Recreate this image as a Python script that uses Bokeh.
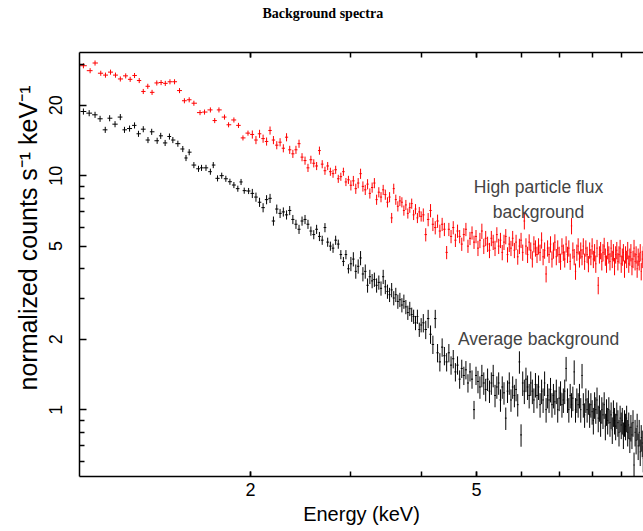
import numpy as np
from bokeh.plotting import figure
from bokeh.models import ColumnDataSource, Range1d, FixedTicker, LogAxis, Title, Label, BasicTickFormatter
from bokeh.embed import file_html
from bokeh.resources import INLINE

# ---------------- data ----------------
red_lo_energy = [1.016, 1.044, 1.065, 1.090, 1.111, 1.134, 1.157, 1.180, 1.206, 1.228,
                 1.250, 1.274, 1.295, 1.319, 1.342, 1.368, 1.392, 1.416, 1.443, 1.470,
                 1.500, 1.530, 1.560, 1.590, 1.630, 1.660, 1.700, 1.730, 1.760, 1.800,
                 1.830, 1.870, 1.905, 1.940, 1.980]
red_lo_rate = [29.5, 28.1, 30.3, 27.4, 26.9, 27.7, 26.9, 25.9, 26.7, 25.8,
               26.8, 25.5, 22.9, 24.1, 22.7, 24.9, 25.0, 24.8, 25.2, 25.2,
               23.1, 20.9, 21.1, 20.4, 18.6, 18.7, 19.1, 17.2, 19.1, 17.8,
               16.5, 17.3, 16.4, 14.5, 15.2]

black_lo_energy = [1.016, 1.040, 1.065, 1.087, 1.110, 1.130, 1.155, 1.180, 1.200, 1.225,
                   1.250, 1.270, 1.295, 1.320, 1.340, 1.370, 1.390, 1.415, 1.440, 1.460,
                   1.490, 1.520, 1.540, 1.560, 1.590, 1.620, 1.640, 1.670, 1.700, 1.720,
                   1.750, 1.780, 1.810, 1.840, 1.870, 1.900, 1.925, 1.950, 1.985]
black_lo_rate = [18.8, 18.5, 18.2, 17.5, 15.7, 17.6, 16.6, 17.8, 15.7, 15.9,
                 16.4, 15.1, 15.8, 14.2, 15.4, 14.1, 14.8, 13.8, 14.7, 14.2,
                 13.7, 13.0, 11.9, 12.6, 11.1, 10.7, 10.8, 10.8, 10.4, 11.1,
                 9.74, 10.0, 9.7, 9.42, 9.12, 8.8, 9.4, 8.63, 8.6]

hi_energy = [2.015, 2.045, 2.075, 2.105, 2.135, 2.165, 2.195, 2.225, 2.255, 2.285,
             2.315, 2.345, 2.375, 2.405, 2.435, 2.465, 2.495, 2.525, 2.555, 2.585,
             2.615, 2.645, 2.675, 2.705, 2.735, 2.765, 2.795, 2.825, 2.855, 2.885,
             2.915, 2.945, 2.975,
             3.005, 3.035, 3.065, 3.095, 3.125, 3.155, 3.185, 3.215, 3.245, 3.275,
             3.305, 3.335, 3.365, 3.395, 3.425, 3.455, 3.485, 3.515, 3.545, 3.575,
             3.605, 3.635, 3.665, 3.695, 3.725, 3.755, 3.785, 3.815, 3.845, 3.875,
             3.905, 3.935, 3.965, 3.995,
             4.03, 4.07, 4.11, 4.15, 4.19, 4.23, 4.27, 4.31, 4.35, 4.39,
             4.43, 4.47, 4.51, 4.55, 4.59, 4.63, 4.67, 4.71, 4.75, 4.79,
             4.83, 4.87, 4.91, 4.95, 4.99, 5.03, 5.07, 5.11, 5.15, 5.19,
             5.23, 5.27, 5.31, 5.35, 5.39, 5.43, 5.47, 5.51, 5.55, 5.59,
             5.63, 5.67, 5.71, 5.75, 5.79, 5.83, 5.87, 5.91, 5.95, 5.99,
             6.03, 6.07, 6.11, 6.15, 6.19, 6.23, 6.27, 6.31, 6.35, 6.39,
             6.43, 6.47, 6.51, 6.55, 6.59, 6.63, 6.67, 6.71, 6.75, 6.79,
             6.83, 6.87, 6.91, 6.95, 6.99, 7.03, 7.07, 7.11, 7.15, 7.19,
             7.23, 7.27, 7.31, 7.35, 7.39, 7.43, 7.47, 7.51, 7.55, 7.59,
             7.63, 7.67, 7.71, 7.75, 7.79, 7.83, 7.87, 7.91, 7.95, 7.99,
             8.03, 8.07, 8.11, 8.15, 8.19, 8.23, 8.27, 8.31, 8.35, 8.39,
             8.43, 8.47, 8.51, 8.55, 8.59, 8.63, 8.67, 8.71, 8.75, 8.79,
             8.83, 8.87, 8.91, 8.95, 8.99, 9.03, 9.07, 9.11, 9.15, 9.19,
             9.23, 9.27, 9.31, 9.35, 9.39, 9.43, 9.47, 9.51, 9.55, 9.59,
             9.63, 9.67, 9.71, 9.75, 9.79, 9.83, 9.87]

red_hi_rate = [15.0, 14.2, 15.1, 14.4, 14.0, 15.6, 14.2, 13.5, 13.9, 13.1,
               14.6, 12.9, 12.4, 12.9, 13.7, 12.0, 11.6, 10.8, 11.7, 11.3,
               11.0, 12.8, 11.2, 10.5, 11.0, 10.4, 10.2, 10.6, 9.7, 9.9,
               10.4, 9.4, 9.6,
               9.1, 9.5, 8.8, 9.3, 10.2, 9.0, 8.7, 9.2, 8.4, 8.9,
               9.3, 7.9, 8.5, 8.1, 8.7, 8.3, 7.7, 8.1, 6.6, 8.8,
               7.9, 7.4, 7.8, 7.7, 7.1, 7.5, 6.9, 7.3, 7.6, 6.8,
               7.2, 6.6, 7.0, 6.7,
               6.8, 5.6, 6.5, 7.1, 6.2, 6.0, 6.4, 5.8, 6.2, 5.9,
               4.7, 5.9, 5.5, 6.0, 5.3, 5.8, 5.5, 5.1, 5.6, 5.9,
               5.0, 5.4, 5.7, 5.2, 5.5, 4.9, 5.3, 5.8, 5.0, 5.4,
               5.1, 4.8, 5.4, 5.2, 4.9, 5.6, 5.0, 5.3, 4.7, 5.2,
               5.5, 4.6, 5.1, 4.9, 5.4, 4.8, 5.2, 4.5, 5.0, 5.3,
               4.7, 6.4, 5.0, 4.6, 5.2, 4.8, 4.4, 5.1, 4.9, 4.6,
               5.0, 4.7, 5.3, 4.5, 4.8, 3.8, 4.9, 4.6, 5.1, 4.4,
               4.8, 5.2, 4.5, 4.9, 4.6, 4.3, 5.0, 4.7, 4.4, 5.1,
               4.6, 4.9, 4.3, 6.1, 4.8, 4.5, 3.9, 4.7, 5.0, 4.4,
               4.8, 4.5, 5.0, 4.3, 4.9, 4.6, 4.2, 4.8, 4.5, 5.0,
               4.4, 4.7, 4.2, 4.9, 3.4, 4.6, 4.8, 4.3, 4.7, 5.0,
               4.5, 4.2, 4.8, 4.6, 4.3, 4.9, 4.4, 4.7, 4.1, 4.6,
               4.8, 4.3, 4.6, 4.9, 4.2, 4.5, 4.7, 4.0, 4.6, 4.4,
               4.8, 4.2, 4.5, 4.7, 4.1, 4.4, 4.9, 4.3, 4.6, 4.0,
               4.5, 4.3, 4.7, 3.9, 4.4, 4.6, 4.2]

black_hi_rate = [8.4, 8.1, 7.7, 7.3, 7.9, 8.0, 6.4, 7.2, 6.9, 7.0,
                 6.8, 7.1, 6.5, 6.2, 5.9, 6.4, 6.5, 6.2, 5.8, 5.6,
                 5.9, 5.5, 5.3, 6.0, 5.2, 5.0, 4.9, 5.3, 5.1, 4.6,
                 4.3, 4.6, 4.0,
                 4.2, 4.4, 3.9, 4.1, 4.45, 3.8, 3.9, 3.4, 3.7, 3.55,
                 3.6, 3.4, 3.5, 3.3, 3.7, 3.35, 3.2, 3.1, 3.25, 3.0,
                 3.1, 2.9, 2.95, 2.8, 2.9, 2.75, 2.6, 2.7, 2.55, 2.5,
                 2.35, 2.5, 2.2, 2.3,
                 2.35, 2.2, 2.45, 2.1, 1.9, 2.45, 1.75, 1.6, 1.85, 1.7,
                 1.6, 1.75, 1.55, 1.65, 1.45, 1.55, 1.35, 1.5, 1.4, 1.48,
                 1.3, 1.45, 1.35, 1.0, 1.4, 1.32, 1.25, 1.4, 1.3, 1.22,
                 1.35, 1.2, 1.3, 1.4, 1.15, 1.25, 1.3, 1.1, 1.25, 1.18,
                 0.92, 1.2, 1.3, 1.1, 1.25, 1.15, 1.22, 1.05, 1.6, 0.78,
                 1.3, 1.2, 1.35, 1.25, 1.15, 1.3, 1.2, 1.1, 1.28, 1.15,
                 1.25, 1.05, 1.2, 1.1, 1.3, 1.0, 1.15, 1.1, 1.22, 1.05,
                 1.15, 1.08, 1.2, 1.0, 1.12, 1.18, 1.05, 1.1, 1.2, 1.5,
                 1.1, 1.0, 1.15, 1.05, 1.12, 1.45, 1.0, 1.1, 1.05, 1.15,
                 1.0, 1.4, 1.05, 0.95, 1.1, 1.0, 1.08, 0.95, 1.05, 0.98,
                 0.9, 1.05, 1.0, 1.1, 0.92, 1.02, 0.88, 1.0, 0.95, 1.05,
                 0.85, 0.98, 0.9, 1.0, 0.88, 0.95, 0.82, 0.97, 0.9, 0.85,
                 0.95, 0.88, 0.8, 0.92, 0.86, 0.9, 0.78, 0.88, 0.85, 0.92,
                 0.8, 0.86, 0.75, 0.84, 0.78, 0.88, 0.58, 0.8, 0.74, 0.85,
                 0.7, 0.8, 0.66, 0.76, 0.72, 0.62, 0.78]

# relative half-length of the error bars, per energy band (upper band edges in keV)
err_band_upper = [2.0, 3.0, 4.0, 5.0, 6.0, 8.0, 10.5]
red_rel_err = [0.025, 0.04, 0.05, 0.065, 0.075, 0.08, 0.085]
black_rel_err = [0.03, 0.045, 0.07, 0.09, 0.11, 0.12, 0.13]

x_tick_labels = [2, 5]
x_minor_ticks = [2, 3, 4, 5, 6, 7, 8, 9]
y_tick_labels = [1, 2, 5, 10, 20]
y_minor_ticks = [0.6, 0.7, 0.8, 0.9, 3, 4, 6, 7, 8, 9, 30]

title_text = "Background spectra"
y_label_text = "normalized counts s\u207b\u00b9 keV\u207b\u00b9"
x_label_text = "Energy (keV)"
label_high = ["High particle flux", "background"]
label_avg = "Average background"


def build_source(energy, rate, rel_err_band):
    e = np.asarray(energy, dtype=float)
    r = np.asarray(rate, dtype=float)
    mids = (e[1:] + e[:-1]) / 2.0
    lo = np.concatenate([[e[0] - (mids[0] - e[0])], mids])
    hi = np.concatenate([mids, [e[-1] + (e[-1] - mids[-1])]])
    idx = np.searchsorted(np.asarray(err_band_upper), e)
    rel = np.asarray(rel_err_band)[np.clip(idx, 0, len(rel_err_band) - 1)]
    return ColumnDataSource(dict(e=e, r=r, lo=lo, hi=hi,
                                 rlo=r * (1 - rel), rhi=r * (1 + rel)))


red_src = build_source(red_lo_energy + hi_energy, red_lo_rate + red_hi_rate, red_rel_err)
blk_src = build_source(black_lo_energy + hi_energy, black_lo_rate + black_hi_rate, black_rel_err)

FONT = "Liberation Sans"

p = figure(width=643, height=531, x_axis_type="log", y_axis_type="log", title=None,
           x_range=Range1d(1.0, 9.84), y_range=Range1d(0.518, 33.6),
           output_backend="svg", toolbar_location=None,
           min_border_left=79, min_border_right=0, min_border_top=52, min_border_bottom=55)
p.outline_line_color = None
p.grid.visible = False
p.background_fill_color = "white"
p.border_fill_color = "white"

for src, col in ((red_src, "#ff0000"), (blk_src, "#000000")):
    p.segment(x0="lo", x1="hi", y0="r", y1="r", source=src, line_color=col, line_width=1)
    p.segment(x0="e", x1="e", y0="rlo", y1="rhi", source=src, line_color=col, line_width=1)

# bottom axis
xa = p.xaxis[0]
xa.ticker = FixedTicker(ticks=x_tick_labels, minor_ticks=x_minor_ticks)
xa.formatter = BasicTickFormatter()
xa.axis_label = x_label_text

# left axis
ya = p.yaxis[0]
ya.ticker = FixedTicker(ticks=y_tick_labels, minor_ticks=y_minor_ticks)
ya.formatter = BasicTickFormatter()
ya.major_label_orientation = "parallel"

# top axis (ticks only; its tiny white labels reserve room so the title sits high)
top = LogAxis(ticker=FixedTicker(ticks=x_tick_labels, minor_ticks=x_minor_ticks),
              formatter=BasicTickFormatter())
top.major_label_text_font_size = "2px"
top.major_label_text_color = "white"
top.major_label_standoff = 28
p.add_layout(top, "above")

for ax in (xa, ya, top):
    ax.axis_line_color = "black"
    ax.axis_line_width = 1.5
    ax.major_tick_line_color = "black"
    ax.minor_tick_line_color = "black"
    ax.major_tick_line_width = 1.5
    ax.minor_tick_line_width = 1.5
    ax.major_tick_out = 0
    ax.minor_tick_out = 0
    ax.minor_tick_in = 5
ya.major_tick_in = 7
xa.major_tick_in = 5
top.major_tick_in = 5

for ax in (xa, ya):
    ax.major_label_text_font = FONT
    ax.major_label_text_font_size = "18px"
    ax.major_label_text_color = "black"
    ax.axis_label_text_font = FONT
    ax.axis_label_text_font_size = "20px"
    ax.axis_label_text_font_style = "normal"
    ax.axis_label_text_color = "black"
xa.major_label_standoff = 6
xa.axis_label_standoff = 4
ya.major_label_standoff = 17

ylab = Title(text=y_label_text, align="left", offset=86,
             text_font=FONT, text_font_size="25px", text_font_style="normal",
             text_color="black", standoff=10)
p.add_layout(ylab, "left")

ttl = Title(text=title_text, align="left", offset=183, standoff=0,
            text_font="Liberation Serif", text_font_style="bold",
            text_font_size="14px", text_color="black")
p.add_layout(ttl, "above")

lbl_font = "17.5px"
p.add_layout(Label(x=6.43, y=8.97, text=label_high[0], text_align="center",
                   text_baseline="middle", text_font=FONT, text_font_size=lbl_font))
p.add_layout(Label(x=6.43, y=7.02, text=label_high[1], text_align="center",
                   text_baseline="middle", text_font=FONT, text_font_size=lbl_font))
p.add_layout(Label(x=6.43, y=2.01, text=label_avg, text_align="center",
                   text_baseline="middle", text_font=FONT, text_font_size=lbl_font))

open("out.html", "w").write(file_html(p, INLINE))
